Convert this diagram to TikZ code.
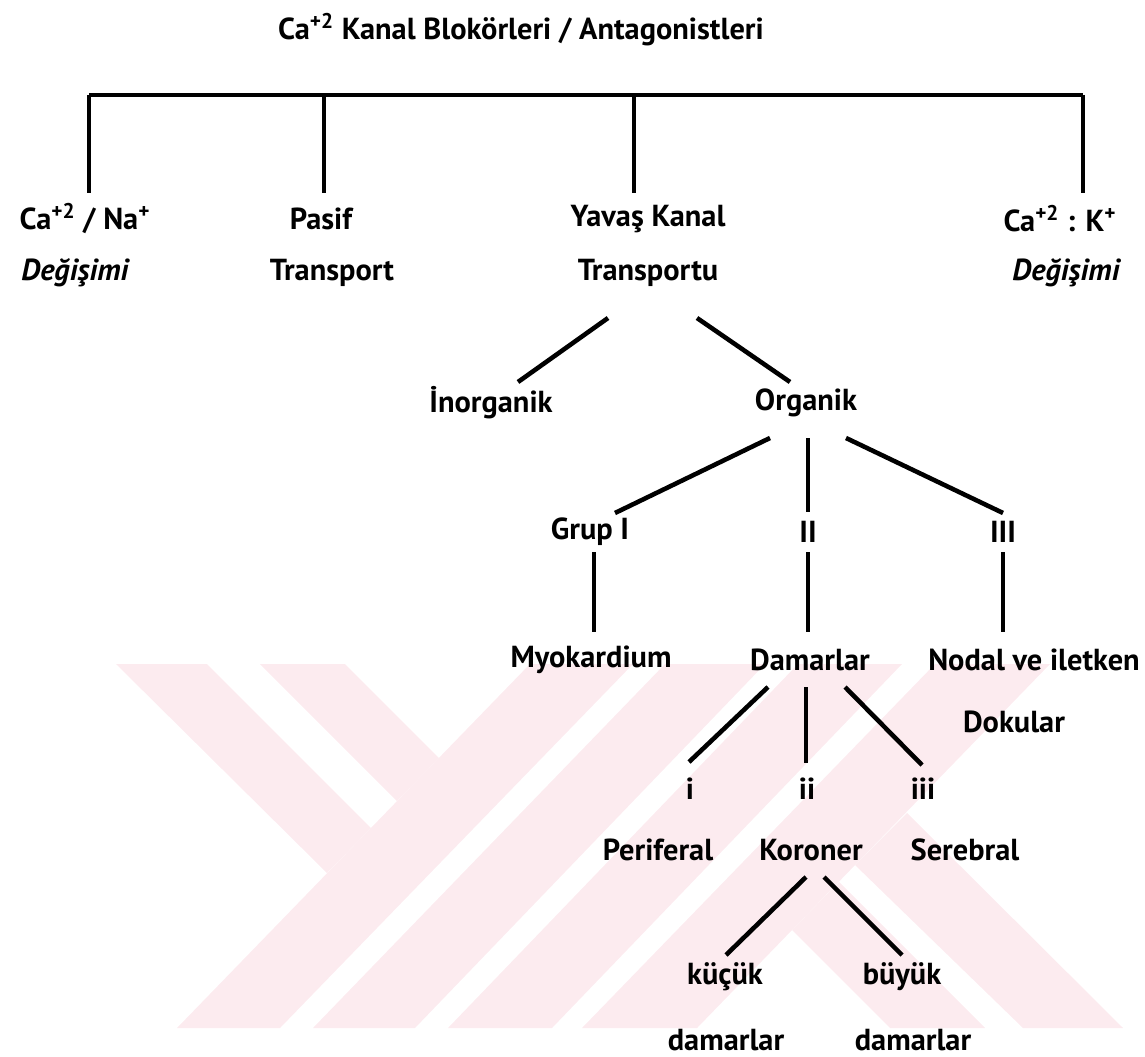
\documentclass[tikz,border=0pt]{standalone}
\usepackage{fontspec}
\setmainfont{PT Sans}
\definecolor{wmpink}{RGB}{252,235,239}

\begin{document}
\begin{tikzpicture}[x=0.02cm, y=-0.02cm,
    entry/.style ={font=\fontsize{17.3}{20}\selectfont\bfseries, inner sep=0pt},
    slant/.style ={font=\fontsize{17.3}{20}\selectfont\bfseries\itshape, inner sep=0pt},
    riser/.style ={line width=2pt},
    branch/.style ={line width=2.6pt}]
   \useasboundingbox (0,0) rectangle (1145,1057);
   % watermark
   \fill[wmpink] (116,664) -- (207,664) -- (371,828) -- (327,873) -- cycle;
   \fill[wmpink] (260,664) -- (345,664) -- (439,758) -- (397,801) -- cycle;
   \fill[wmpink] (530,664) -- (633,664) -- (280,1028) -- (177,1028) -- cycle;
   \fill[wmpink] (665,664) -- (765,664) -- (415,1028) -- (313,1028) -- cycle;
   \fill[wmpink] (798,664) -- (902,664) -- (552,1028) -- (448,1028) -- cycle;
   \fill[wmpink] (935,664) -- (1050,664) -- (697,1028) -- (582,1028) -- cycle;
   \fill[wmpink] (792,930) -- (839,882) -- (985,1028) -- (890,1028) -- cycle;
   \fill[wmpink] (855,865) -- (907,813) -- (1123,1028) -- (1023,1028) -- cycle;

   \node[entry] (title) at (521,30) {Ca\textsuperscript{+2} Kanal Blokörleri / Antagonistleri};

   \node[entry] (nana) at (85,219) {Ca\textsuperscript{+2} / Na\textsuperscript{+}};
   \node[entry] (pasif) at (321,219) {Pasif};
   \node[entry] (yavas) at (648,219) {Yavaş Kanal};
   \node[entry] (kalium) at (1060,219) {Ca\textsuperscript{+2} : K\textsuperscript{+}};
   \node[slant] (degis1) at (75,273) {Değişimi};
   \node[entry] (transp) at (332,273) {Transport};
   \node[entry] (transpu) at (648,273) {Transportu};
   \node[slant] (degis2) at (1066,273) {Değişimi};

   \node[entry] (inorg) at (491,403) {İnorganik};
   \node[entry] (org) at (806,403) {Organik};
   \node[entry] (grup1) at (590,532) {Grup I};
   \node[entry] (grup2) at (808,532) {II};
   \node[entry] (grup3) at (1003,532) {III};
   \node[entry] (myo) at (591,660) {Myokardium};
   \node[entry] (damar) at (810,660) {Damarlar};
   \node[entry] (nodal) at (1034,660) {Nodal ve iletken};
   \node[entry] (doku) at (1014,722) {Dokular};
   \node[entry] (sm1) at (690,789) {i};
   \node[entry] (sm2) at (807,789) {ii};
   \node[entry] (sm3) at (923,789) {iii};
   \node[entry] (peri) at (658,850) {Periferal};
   \node[entry] (koro) at (811,850) {Koroner};
   \node[entry] (sere) at (965,850) {Serebral};
   \node[entry] (kucuk) at (725,977) {küçük};
   \node[entry] (buyuk) at (902,977) {büyük};
   \node[entry] (damk) at (726,1040) {damarlar};
   \node[entry] (damb) at (913,1040) {damarlar};

   % line ends
   \coordinate (bl) at (89,95);   \coordinate (br) at (1083,95);
   \coordinate (t2) at (324,95);  \coordinate (t3) at (634,95);
   \coordinate (b1) at (89,193);  \coordinate (b2) at (324,193);
   \coordinate (b3) at (634,193); \coordinate (b4) at (1083,193);
   \coordinate (y1) at (608,318); \coordinate (y2) at (518,382);
   \coordinate (y3) at (697,318); \coordinate (y4) at (790,382);
   \coordinate (o1) at (770,438); \coordinate (o2) at (615,513);
   \coordinate (o3) at (808,438); \coordinate (o4) at (808,512);
   \coordinate (o5) at (846,438); \coordinate (o6) at (1003,513);
   \coordinate (g1) at (594,552); \coordinate (g2) at (594,632);
   \coordinate (g3) at (808,552); \coordinate (g4) at (808,632);
   \coordinate (g5) at (1003,552); \coordinate (g6) at (1003,632);
   \coordinate (d1) at (768,687); \coordinate (d2) at (689,762);
   \coordinate (d3) at (806,687); \coordinate (d4) at (806,763);
   \coordinate (d5) at (845,687); \coordinate (d6) at (922,765);
   \coordinate (k1) at (806,877); \coordinate (k2) at (726,955);
   \coordinate (k3) at (824,877); \coordinate (k4) at (902,955);

   \draw[riser, line width=2.4pt] (bl) to (br);
   \draw[riser] (bl) to (b1);
   \draw[riser] (t2) to (b2);
   \draw[riser] (t3) to (b3);
   \draw[riser] (br) to (b4);
   \draw[branch] (y1) to (y2);
   \draw[branch] (y3) to (y4);
   \draw[branch] (o1) to (o2);
   \draw[riser] (o3) to (o4);
   \draw[branch] (o5) to (o6);
   \draw[riser] (g1) to (g2);
   \draw[riser] (g3) to (g4);
   \draw[riser] (g5) to (g6);
   \draw[branch] (d1) to (d2);
   \draw[riser] (d3) to (d4);
   \draw[branch] (d5) to (d6);
   \draw[branch] (k1) to (k2);
   \draw[branch] (k3) to (k4);
\end{tikzpicture}
\end{document}
